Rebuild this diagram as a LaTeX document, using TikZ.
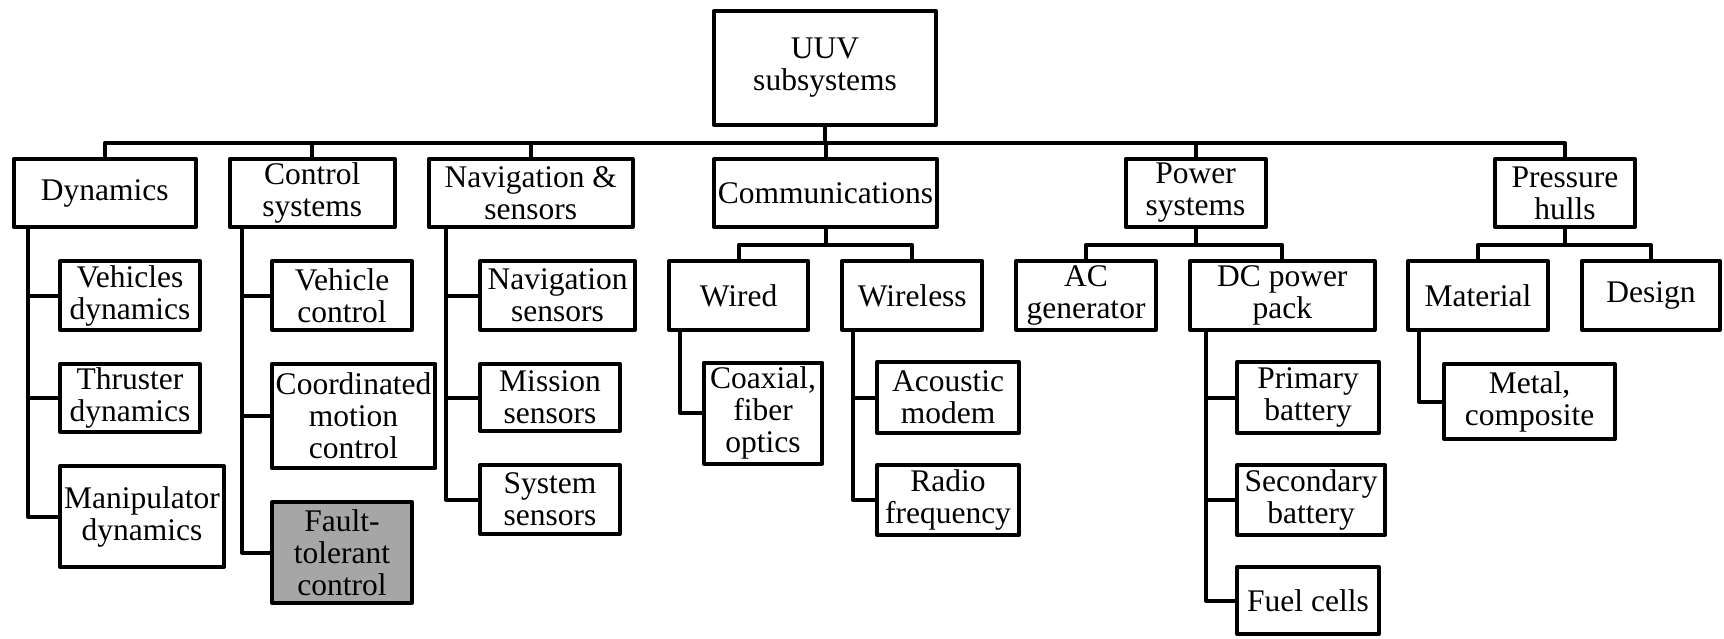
\documentclass[tikz,border=0pt]{standalone}
\usepackage{fontspec}
\setmainfont{Liberation Serif}
\definecolor{faultgray}{HTML}{A6A6A6}
\tikzset{
  box/.style={draw, line width=4pt, inner sep=0pt, align=center, line join=round,
              font=\fontsize{31.5}{32}\selectfont},
  sz/.style 2 args={minimum width=#1pt, minimum height=#2pt},
  link/.style={line width=4pt, line join=round},
  shaded/.style={fill=faultgray}
}
\begin{document}
\begin{tikzpicture}[x=1pt, y=-1pt]
\useasboundingbox (0,0) rectangle (1724,638);

% root
\node[box, sz={222}{114}] (uuv) at (825,68) {UUV\\subsystems};

% first level
\node[box, sz={182.5}{68}] (dyn)  at (104.75,193) {Dynamics};
\node[box, sz={165}{68}]   (ctrl) at (312.25,193) {Control\\systems};
\node[box, sz={204}{68}]   (nav)  at (530.7,193)  {Navigation \&\\sensors};
\node[box, sz={223}{68}]   (comm) at (825.5,193)  {Communications};
\node[box, sz={140}{68}]   (pow)  at (1195.5,193) {Power\\systems};
\node[box, sz={140}{68}]   (pres) at (1565,193)   {Pressure\\hulls};

% dynamics
\node[box, sz={140}{69}]   (vdyn)  at (130,295.5) {Vehicles\\dynamics};
\node[box, sz={140}{68}]   (thr)   at (130,398)   {Thruster\\dynamics};
\node[box, sz={163.8}{101}] (manip) at (142,516.5) {Manipulator\\dynamics};

% control systems
\node[box, sz={140}{69}]    (vctrl) at (342,295.5)  {Vehicle\\control};
\node[box, sz={163.6}{104}] (coord) at (353.6,416)  {Coordinated\\motion\\control};
\node[box, shaded, sz={140}{101}] (fault) at (342,552.5) {Fault-\\tolerant\\control};

% navigation & sensors
\node[box, sz={155}{69}] (navs) at (557.5,295.5) {Navigation\\sensors};
\node[box, sz={140}{67}] (miss) at (550,397.5)   {Mission\\sensors};
\node[box, sz={140}{69}] (sys)  at (550,499.5)   {System\\sensors};

% communications
\node[box, sz={139.4}{69}]  (wired)    at (738.7,295.5)  {Wired};
\node[box, sz={140}{69}]    (wireless) at (912.25,295.5) {Wireless};
\node[box, sz={118.5}{101}] (coax)     at (763,413)      {Coaxial,\\fiber\\optics};
\node[box, sz={141.5}{71}]  (acou)     at (948,397.5)    {Acoustic\\modem};
\node[box, sz={141.5}{70}]  (radio)    at (948,500)      {Radio\\frequency};

% power systems
\node[box, sz={140}{69}]   (acgen) at (1086,295.5)   {AC\\generator};
\node[box, sz={184.6}{69}] (dcpp)  at (1282.3,295.5) {DC power\\pack};
\node[box, sz={141.6}{71}] (prim)  at (1308,397.5)   {Primary\\battery};
\node[box, sz={147.7}{70}] (sec)   at (1311,500)     {Secondary\\battery};
\node[box, sz={141.6}{67}] (fuel)  at (1308,600.5)   {Fuel cells};

% pressure hulls
\node[box, sz={140}{69}] (mat)   at (1478,295.5)   {Material};
\node[box, sz={138}{69}] (des)   at (1651,295.5)   {Design};
\node[box, sz={171}{75}] (metal) at (1529.5,401.5) {Metal,\\composite};

% bus heights
\coordinate (bus) at (0,143);
\coordinate (sub) at (0,245);

% main bus
\draw[link] (uuv.south) -- (uuv.south |- bus);
\draw[link] (dyn.north) |- (bus -| pres.north) -- (pres.north);
\foreach \n in {ctrl,nav,comm,pow} \draw[link] (\n.north) -- (\n.north |- bus);

% second-level buses
\draw[link] (comm.south) -- (comm.south |- sub);
\draw[link] (wired.north) |- (sub -| wireless.north) -- (wireless.north);
\draw[link] (pow.south) -- (pow.south |- sub);
\draw[link] (acgen.north) |- (sub -| dcpp.north) -- (dcpp.north);
\draw[link] (pres.south) -- (pres.south |- sub);
\draw[link] (mat.north) |- (sub -| des.north) -- (des.north);

% side branches
\foreach \c in {vdyn,thr,manip} \draw[link] ([xshift=16.3pt]dyn.south west) |- (\c.west);
\foreach \c in {vctrl,coord,fault} \draw[link] ([xshift=14.1pt]ctrl.south west) |- (\c.west);
\foreach \c in {navs,miss,sys} \draw[link] ([xshift=19.3pt]nav.south west) |- (\c.west);
\draw[link] ([xshift=12.6pt]wired.south west) |- (coax.west);
\foreach \c in {acou,radio} \draw[link] ([xshift=13pt]wireless.south west) |- (\c.west);
\foreach \c in {prim,sec,fuel} \draw[link] ([xshift=18pt]dcpp.south west) |- (\c.west);
\draw[link] ([xshift=13pt]mat.south west) |- (metal.west);
\end{tikzpicture}
\end{document}
